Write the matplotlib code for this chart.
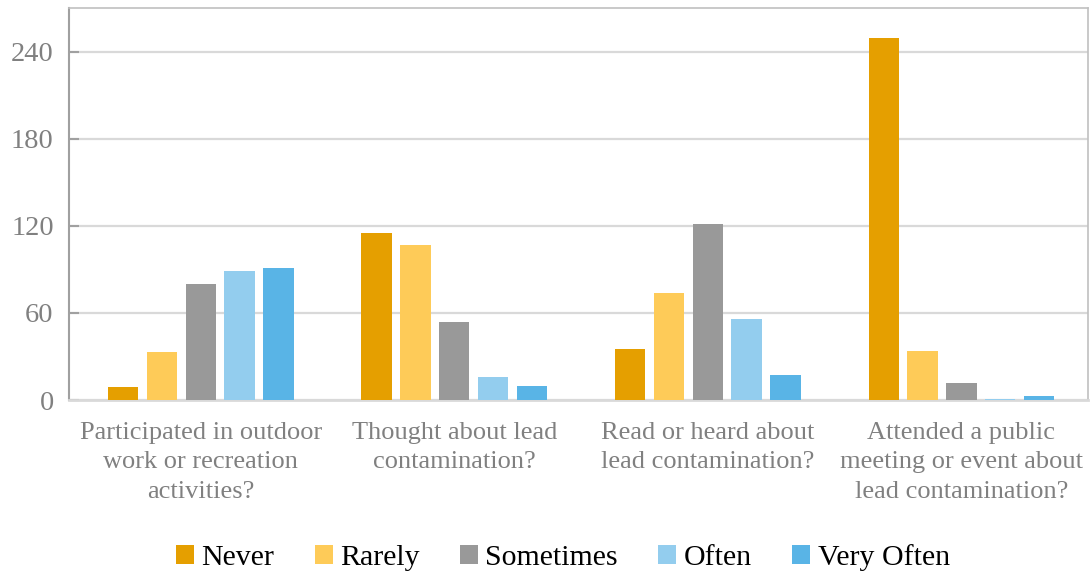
#!/usr/bin/env python3

import matplotlib
import matplotlib.pyplot as plt
import numpy as np

matplotlib.use('Agg')

plt.rcParams['font.family'] = ['Liberation Serif', 'DejaVu Serif']

questions = [
    "Participated in outdoor\nwork or recreation\nactivities?",
    "Thought about lead\ncontamination?",
    "Read or heard about\nlead contamination?",
    "Attended a public\nmeeting or event about\nlead contamination?",
]
answers = ["Never", "Rarely", "Sometimes", "Often", "Very Often"]

never = [9, 115, 35, 249]
rarely = [33, 107, 74, 34]
sometimes = [80, 54, 121, 12]
often = [89, 16, 56, 1]
very_often = [91, 10, 17, 3]

colors = ["#E59F00", "#FECB58", "#999999", "#93CDEE", "#59B4E6"]
yticks = [0, 60, 120, 180, 240]


def drawChart():
    fig = plt.figure(figsize=(10.91, 5.75), dpi=100)
    ax = fig.add_axes([0.0632, 0.3043, 0.9341, 0.6818])

    x = np.arange(len(questions))
    step = 0.153
    width = 0.12
    series = [never, rarely, sometimes, often, very_often]
    for i, (name, vals) in enumerate(zip(answers, series)):
        offset = (i - 2) * step
        ax.bar(x + offset, vals, width, color=colors[i], label=name,
               linewidth=0, zorder=3)

    ax.set_xlim(-0.52, len(questions) - 0.5)
    ax.set_ylim(0, 270)
    ax.set_yticks(yticks)
    ax.set_xticks(x)
    ax.set_xticklabels(questions, fontsize=19, color="#808080", linespacing=1.42)
    ax.tick_params(axis="y", labelsize=20.5, labelcolor="#808080", direction="in",
                   length=7, width=1.5, color="#a0a0a0", pad=11)
    ax.tick_params(axis="x", length=0, pad=16)

    ax.yaxis.grid(True, color="#d9d9d9", linewidth=1.6, zorder=0)
    ax.set_axisbelow(True)

    ax.spines["left"].set_color("#a0a0a0")
    ax.spines["left"].set_linewidth(1.5)
    ax.spines["bottom"].set_color("#d9d9d9")
    ax.spines["bottom"].set_linewidth(2)
    for side in ["top", "right"]:
        ax.spines[side].set_color("#c0c0c0")
        ax.spines[side].set_linewidth(1.2)

    fig.legend(loc="center", bbox_to_anchor=(0.516, 0.03), ncol=5,
               frameon=False, fontsize=21.5, handlelength=0.6, handleheight=0.6,
               handletextpad=0.25, columnspacing=1.35)

    fig.savefig("out.png", dpi=100)


def main():
    drawChart()


if __name__ == "__main__":
    main()
